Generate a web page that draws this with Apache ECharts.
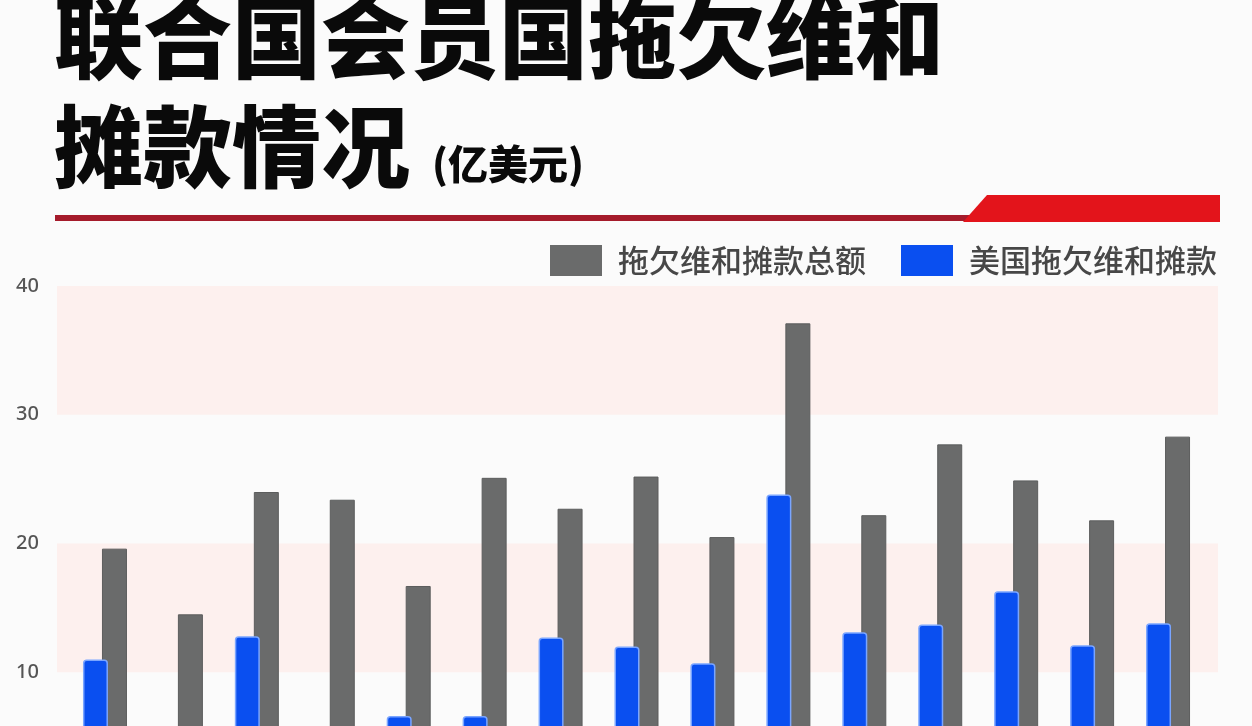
<!DOCTYPE html>
<html>
<head>
<meta charset="utf-8">
<title>联合国会员国拖欠维和摊款情况</title>
<script src="https://cdn.jsdelivr.net/npm/echarts@6/dist/echarts.min.js"></script>
<style>
  html, body { margin: 0; padding: 0; background: #fbfbfb; overflow: hidden; }
  #chart { width: 1252px; height: 860px; }
</style>
</head>
<body>
<div id="chart"></div>
<script>
// 15 groups; the axis labels are cut off in the source picture
var categories = ["1", "2", "3", "4", "5", "6", "7", "8", "9", "10", "11", "12", "13", "14", "15"];
// 美国拖欠维和摊款 (亿美元) - groups 2 and 4 are below the visible area, estimated
var usArrears = [11.0, 4.0, 12.8, 4.5, 6.6, 6.6, 12.7, 12.0, 10.7, 23.8, 13.1, 13.7, 16.3, 12.1, 13.8];
// 拖欠维和摊款总额 (亿美元)
var totalArrears = [19.6, 14.5, 24.0, 23.4, 16.7, 25.1, 22.7, 25.2, 20.5, 37.1, 22.2, 27.7, 24.9, 21.8, 28.3];
var yTicks = { min: 0, max: 40, interval: 10 };

var seriesNames = ["拖欠维和摊款总额", "美国拖欠维和摊款"];

var cjk = "'Noto Sans CJK SC', 'Noto Sans', sans-serif";

var myChart = echarts.init(document.getElementById("chart"), null, { renderer: "canvas" });

var option = {
  backgroundColor: "#fbfbfb",
  animation: false,
  title: [
    {
      text: "联合国会员国拖欠维和",
      left: 54,
      top: -7,
      padding: 0,
      textStyle: { fontFamily: cjk, fontWeight: 900, fontSize: 89, lineHeight: 89, color: "#0a0a0a" },
    },
    {
      text: "摊款情况",
      left: 54,
      top: 102,
      padding: 0,
      textStyle: { fontFamily: cjk, fontWeight: 900, fontSize: 89, lineHeight: 89, color: "#0a0a0a" },
    },
    {
      text: "(亿美元)",
      left: 432,
      top: 143,
      padding: 0,
      textStyle: { fontFamily: cjk, fontWeight: 900, fontSize: 40, lineHeight: 42, color: "#0a0a0a" },
    },
  ],
  graphic: [
    {
      type: "rect",
      shape: { x: 55, y: 215, width: 920, height: 6 },
      style: { fill: "#a51b2b" },
    },
    {
      type: "polygon",
      shape: { points: [[963, 222], [987, 195], [1220, 195], [1220, 222]] },
      style: { fill: "#e3141b" },
    },
  ],
  legend: {
    data: seriesNames,
    right: 30,
    top: 240,
    icon: "rect",
    itemWidth: 52,
    itemHeight: 31,
    itemGap: 35,
    itemStyle: { borderWidth: 0 },
    textStyle: { fontFamily: cjk, fontWeight: 500, fontSize: 31, color: "#474747", padding: [0, 0, 0, 11] },
  },
  grid: [
    { left: 67, right: 46, top: 286, bottom: 59 },
    // background band grid, a little wider than the bars' grid
    { left: 57, right: 34, top: 286, bottom: 59 },
  ],
  xAxis: [
    {
      type: "category",
      data: categories,
      gridIndex: 0,
      axisLine: { show: false },
      axisTick: { show: false },
      axisLabel: { show: false },
    },
    { type: "value", gridIndex: 1, min: 0, max: 1, show: false },
  ],
  yAxis: [
    {
      type: "value",
      gridIndex: 0,
      min: yTicks.min,
      max: yTicks.max,
      interval: yTicks.interval,
      axisLine: { show: false },
      axisTick: { show: false },
      splitLine: { show: false },
      axisLabel: {
        align: "left",
        margin: 51,
        fontFamily: "'Noto Sans', sans-serif",
        fontWeight: 500,
        fontSize: 20,
        color: "#555",
        showMinLabel: false,
      },
    },
    {
      type: "value",
      gridIndex: 1,
      min: yTicks.min,
      max: yTicks.max,
      interval: yTicks.interval,
      axisLine: { show: false },
      axisTick: { show: false },
      axisLabel: { show: false },
      splitLine: { show: false },
      splitArea: {
        show: true,
        areaStyle: { color: ["rgba(255,255,255,0)", "#fdf0ee"] },
      },
    },
  ],
  series: [
    {
      name: seriesNames[1],
      type: "bar",
      data: usArrears,
      barWidth: 25,
      barGap: "-24%",
      z: 4,
      itemStyle: {
        color: "#0a4ff0",
        borderColor: "#7aa5ff",
        borderWidth: 1.5,
        borderRadius: [3, 3, 0, 0],
      },
    },
    {
      name: seriesNames[0],
      type: "bar",
      data: totalArrears,
      barWidth: 25,
      z: 3,
      itemStyle: {
        color: "#6a6b6b",
        borderColor: "#5c5d5d",
        borderWidth: 1,
      },
    },
  ],
};

myChart.setOption(option);
window.addEventListener("resize", myChart.resize);
</script>
</body>
</html>
